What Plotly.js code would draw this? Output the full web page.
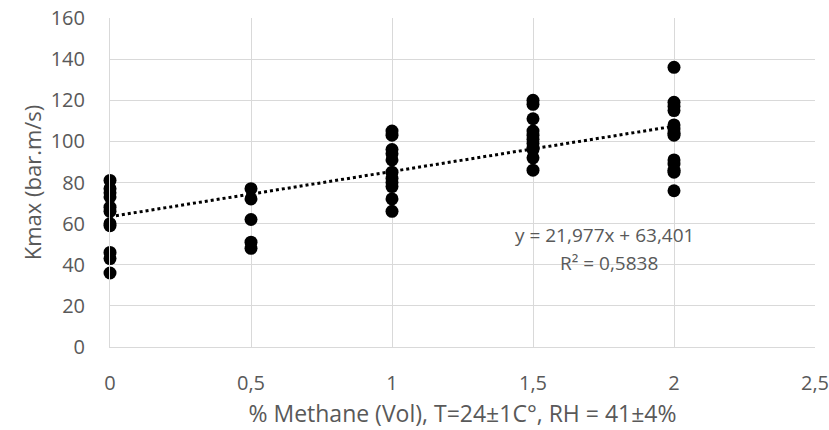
<!DOCTYPE html>
<html>
<head>
<meta charset="utf-8">
<script src="https://cdn.plot.ly/plotly-3.0.1.min.js"></script>
<style>html,body{margin:0;padding:0;background:#fff;}#chart{width:829px;height:430px;}</style>
</head>
<body>
<div id="chart"></div>
<script>
const methane = [
  0,0,0,0,0,0,0,0,0,0,0,
  0.5,0.5,0.5,0.5,0.5,
  1,1,1,1,1,1,1,1,1,1,1,
  1.5,1.5,1.5,1.5,1.5,1.5,1.5,1.5,1.5,1.5,1.5,
  2,2,2,2,2,2,2,2,2,2,2,2,2
];
const kmax = [
  81,77,75,73,68,66,60,59,46,43,36,
  77,72,62,51,48,
  105,103,96,94,91,85,82,80,78,72,66,
  120,118,111,105,103,101,99,97,96,92,86,
  136,119,117,115,108,106,104,103,91,89,86,85,76
];
const trendX = [0, 2];
const trendY = [63.401, 107.355];
const xTicks = [0, 0.5, 1, 1.5, 2, 2.5];
const xTickText = ["0", "0,5", "1", "1,5", "2", "2,5"];
const eqText = "y = 21,977x + 63,401";
const r2Text = "R² = 0,5838";

const font = "Open Sans, Liberation Sans, sans-serif";
const grey = '#595959';
const traces = [
  {x: methane, y: kmax, type: 'scatter', mode: 'markers',
   marker: {color: '#000000', size: 13}, hoverinfo: 'none', cliponaxis: false},
  {x: trendX, y: trendY, type: 'scatter', mode: 'lines',
   line: {color: '#000000', width: 3, dash: 'dot'}, hoverinfo: 'none'}
];
const layout = {
  width: 829, height: 430,
  margin: {l: 110, r: 14, t: 18, b: 83},
  paper_bgcolor: '#ffffff', plot_bgcolor: '#ffffff',
  showlegend: false,
  font: {family: font, color: grey, size: 20},
  xaxis: {
    range: [0, 2.5], tickvals: xTicks, ticktext: xTickText,
    showgrid: true, gridcolor: '#d9d9d9', gridwidth: 1,
    zeroline: false, showline: true, linecolor: '#d9d9d9',
    ticks: 'outside', ticklen: 18, tickcolor: 'rgba(0,0,0,0)',
    ticklabeloverflow: 'allow',
    tickfont: {size: 20, color: grey}, automargin: false,
    title: {text: '% Methane (Vol), T=24±1C°, RH = 41±4%', font: {size: 23, color: grey}, standoff: 10}
  },
  yaxis: {
    range: [0, 160], dtick: 20,
    showgrid: true, gridcolor: '#d9d9d9', gridwidth: 1,
    zeroline: false, showline: true, linecolor: '#d9d9d9',
    ticks: 'outside', ticklen: 20, tickcolor: 'rgba(0,0,0,0)',
    tickfont: {size: 20, color: grey}, automargin: false,
    title: {text: 'Kmax (bar.m/s)', font: {size: 22, color: grey}, standoff: 2}
  },
  annotations: [
    {x: 1.755, y: 54.3, xref: 'x', yref: 'y', text: eqText, showarrow: false,
     font: {size: 19, color: grey}},
    {x: 1.77, y: 41.0, xref: 'x', yref: 'y', text: r2Text, showarrow: false,
     font: {size: 19, color: grey}}
  ]
};
Plotly.newPlot('chart', traces, layout, {displayModeBar: false, staticPlot: true});
</script>
</body>
</html>
